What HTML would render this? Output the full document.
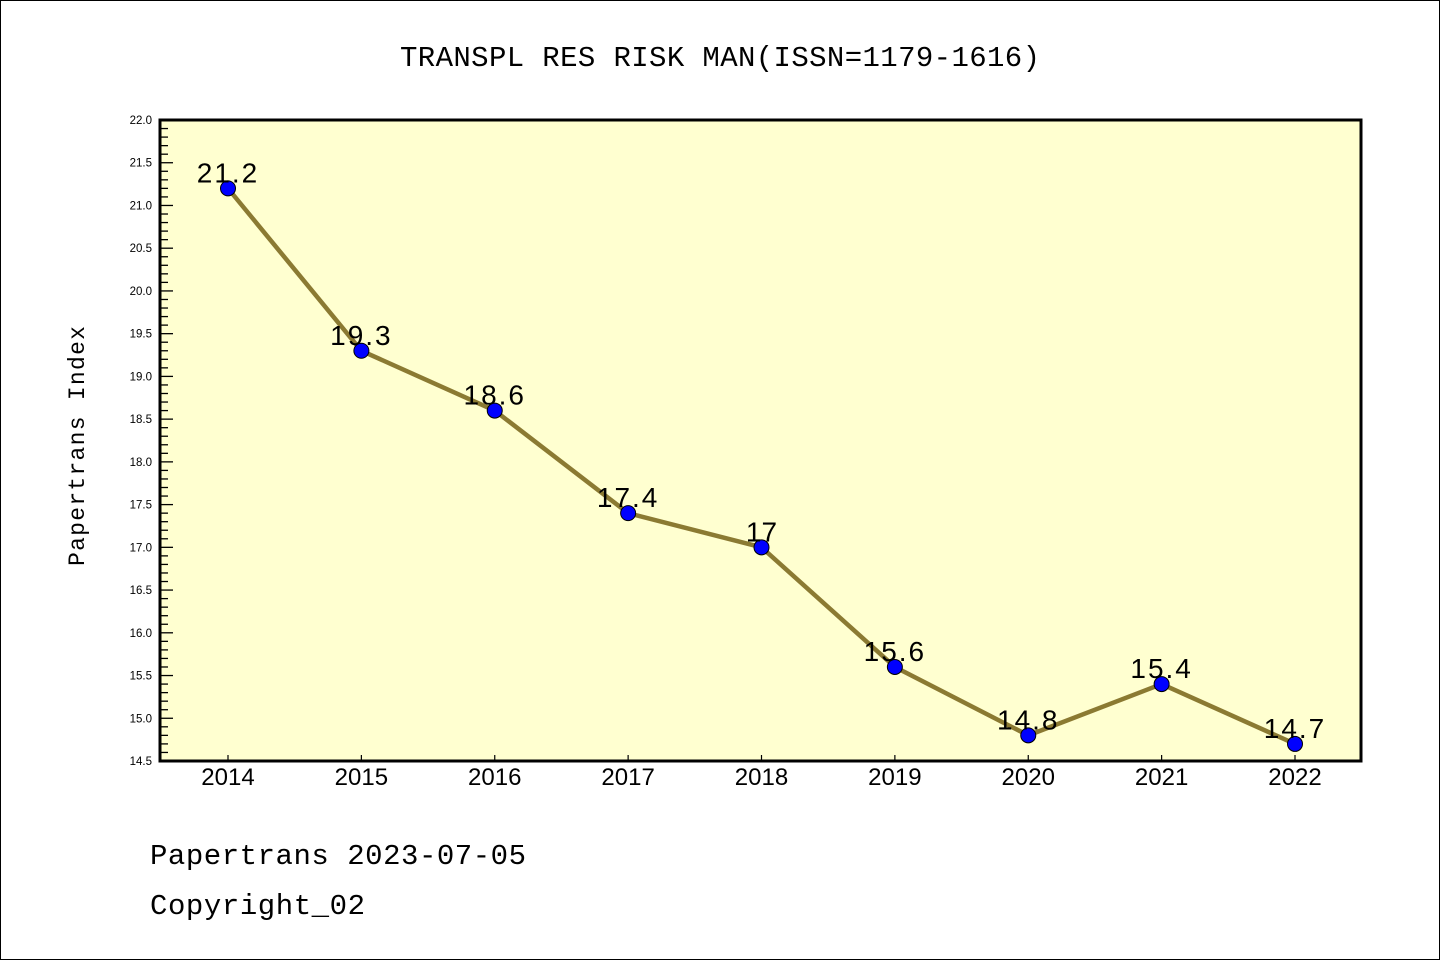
<!DOCTYPE html>
<html><head><meta charset="utf-8"><style>
body{margin:0;background:#fff}
svg{display:block}
text{font-family:"Liberation Sans","WenQuanYi Zen Hei",sans-serif}
.mono{font-family:"Liberation Mono","WenQuanYi Zen Hei",monospace}
</style></head><body>
<svg id="chart" width="1440" height="960" xmlns="http://www.w3.org/2000/svg">
<rect x="0.5" y="0.5" width="1439" height="959" fill="#fff" stroke="#000"/>
<text class="mono" x="720" y="66" font-size="29" text-anchor="middle" textLength="640">TRANSPL RES RISK MAN(ISSN=1179-1616)</text>
<rect x="160" y="120" width="1201" height="641" fill="#ffffd0"/>
<g id="axes"></g>
<g id="series"></g>
<rect x="160" y="120" width="1201" height="641" fill="none" stroke="#000" stroke-width="3"/>
<text class="mono" transform="translate(84,446) rotate(-90)" font-size="23" text-anchor="middle" textLength="240">Papertrans Index</text>
<text class="mono" x="150" y="864" font-size="29" textLength="376">Papertrans 2023-07-05</text>
<text class="mono" x="150" y="914" font-size="29" textLength="215">Copyright_02</text>
</svg>
<script>
const years=["2014","2015","2016","2017","2018","2019","2020","2021","2022"];
const values=[21.2,19.3,18.6,17.4,17,15.6,14.8,15.4,14.7];
const yTicks=[14.5,15.0,15.5,16.0,16.5,17.0,17.5,18.0,18.5,19.0,19.5,20.0,20.5,21.0,21.5,22.0];
const NS="http://www.w3.org/2000/svg";
const L=160,R=1361,T=120,B=761,yMin=14.5,yMax=22;
const x=i=>228+i*(1295-228)/(years.length-1);
const y=v=>B-(v-yMin)/(yMax-yMin)*(B-T);
function mk(tag,attrs,parent){const e=document.createElementNS(NS,tag);for(const k in attrs)e.setAttribute(k,attrs[k]);parent.appendChild(e);return e;}
const ax=document.getElementById('axes'),se=document.getElementById('series');
for(let k=0;k<=75;k++){const v=yMin+k*0.1;const major=k%5===0;
 const t=mk('line',{x1:L,x2:L+(major?13:8),y1:y(v),y2:y(v),stroke:'#000','stroke-width':1.3},ax);
 
 }
yTicks.forEach(v=>{const t=mk('text',{x:L-8,y:y(v)+4,'font-size':11.5,'text-anchor':'end'},ax);t.textContent=v.toFixed(1);
 
 });
years.forEach((yr,i)=>{const t=mk('line',{x1:x(i),x2:x(i),y1:B,y2:B-6,stroke:'#000','stroke-width':1.2},ax);
 
 
 const l=mk('text',{x:x(i),y:785,'font-size':24,'text-anchor':'middle'},ax);l.textContent=yr;
 
 });
const line=mk('polyline',{points:values.map((v,i)=>x(i)+','+y(v)).join(' '),fill:'none',stroke:'#8b7a32','stroke-width':4.5},se);


values.forEach((v,i)=>{const c=mk('circle',{cx:x(i),cy:y(v),r:7.5,fill:'#0000ff',stroke:'#000','stroke-width':1},se);
 
 
 const s=String(v);
 const t=mk('text',{x:x(i),y:y(v)-6,'font-size':28,'text-anchor':'middle','letter-spacing':s.length>2?2:0},se);t.textContent=s;
 
 });
</script>
</body></html>
